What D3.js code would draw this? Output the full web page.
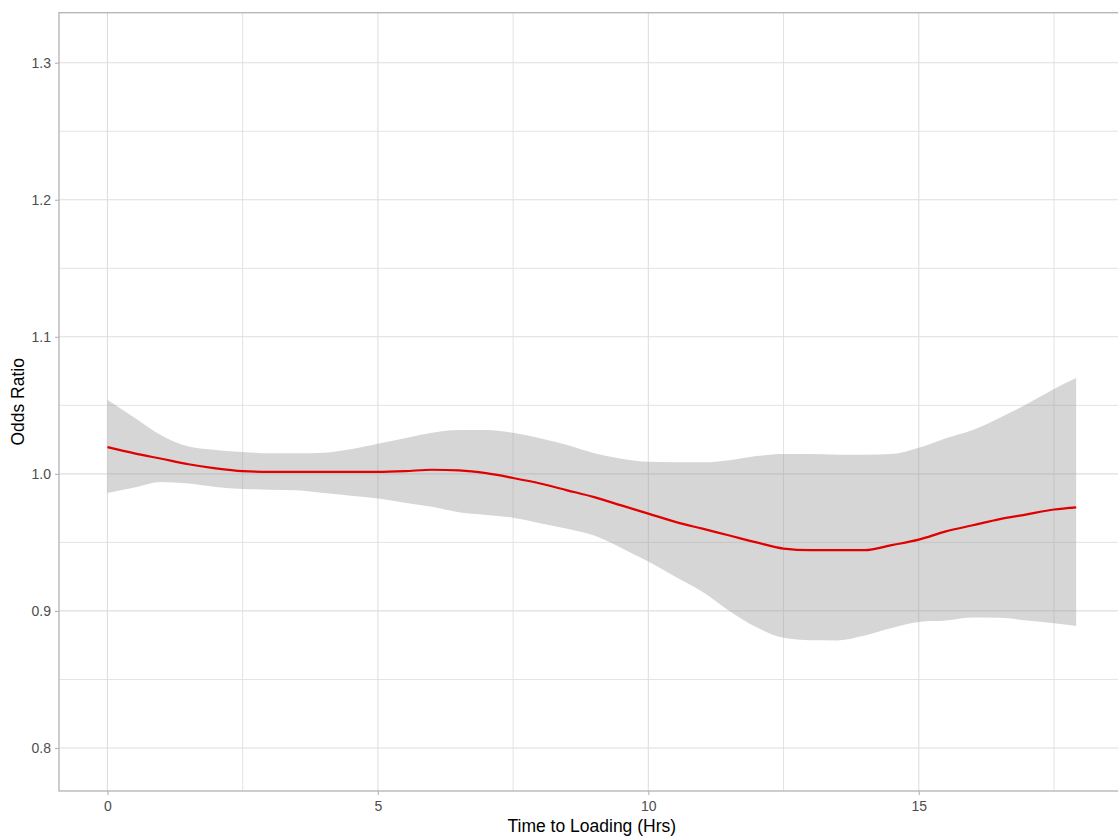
<!DOCTYPE html>
<html>
<head>
<meta charset="utf-8">
<script src="https://cdn.jsdelivr.net/npm/d3@7"></script>
<style>
  html, body { margin: 0; padding: 0; background: #fff; }
  svg { display: block; font-family: "Liberation Sans", Arial, sans-serif; }
</style>
</head>
<body>
<svg id="chart" width="1118" height="836"></svg>
<script>
// ---- Data ----
const timeHrs = [0, 0.5, 1, 1.5, 2, 2.5, 3, 3.5, 4, 4.5, 5, 5.5, 6, 6.5, 7, 7.5, 8, 8.5, 9, 9.5,
  10, 10.5, 11, 11.5, 12, 12.5, 13, 13.5, 14, 14.5, 15, 15.5, 16, 16.5, 17, 17.5, 17.91];
const oddsRatio = [1.0195, 1.015, 1.011, 1.007, 1.004, 1.002, 1.0015, 1.0015, 1.0015, 1.0015,
  1.0015, 1.002, 1.003, 1.0025, 1.0005, 0.997, 0.993, 0.988, 0.983, 0.977,
  0.971, 0.965, 0.960, 0.955, 0.950, 0.9455, 0.9443, 0.9443, 0.9443, 0.948,
  0.952, 0.958, 0.9625, 0.967, 0.9705, 0.974, 0.9756];
const lowerCI = [0.986, 0.990, 0.994, 0.993, 0.9905, 0.989, 0.9885, 0.988, 0.986, 0.984,
  0.982, 0.979, 0.976, 0.972, 0.970, 0.968, 0.964, 0.960, 0.955, 0.946,
  0.936, 0.925, 0.914, 0.900, 0.888, 0.8804, 0.8786, 0.8785, 0.882, 0.8875,
  0.892, 0.893, 0.8952, 0.895, 0.893, 0.891, 0.889];
const upperCI = [1.054, 1.041, 1.028, 1.020, 1.0175, 1.016, 1.015, 1.015, 1.0155, 1.018,
  1.022, 1.026, 1.030, 1.032, 1.032, 1.030, 1.026, 1.021, 1.015, 1.011,
  1.0088, 1.0085, 1.0085, 1.010, 1.013, 1.0145, 1.0145, 1.014, 1.014, 1.0145,
  1.019, 1.026, 1.032, 1.041, 1.051, 1.062, 1.070];
const xTicks = [0, 5, 10, 15];
const xMinor = [2.5, 7.5, 12.5, 17.5];
const yTicks = [0.8, 0.9, 1.0, 1.1, 1.2, 1.3];
const yMinor = [0.85, 0.95, 1.05, 1.15, 1.25];
const xTitle = "Time to Loading (Hrs)";
const yTitle = "Odds Ratio";

const rows = timeHrs.map((t, i) => ({ t, or: oddsRatio[i], lo: lowerCI[i], hi: upperCI[i] }));

// ---- Layout ----
const svg = d3.select("#chart");
const panel = { left: 59, top: 12.7, right: 1124.6, bottom: 791 };

const xMaxData = d3.max(timeHrs), xPad = 0.05 * xMaxData;
const x = d3.scaleLinear().domain([-xPad, xMaxData + xPad]).range([panel.left, panel.right]);
const y = d3.scaleLinear().domain([0.7686, 1.3365]).range([panel.bottom, panel.top]);

svg.append("defs").append("clipPath").attr("id", "clip")
  .append("rect").attr("x", panel.left).attr("y", panel.top)
  .attr("width", panel.right - panel.left).attr("height", panel.bottom - panel.top);

const grid = svg.append("g").attr("clip-path", "url(#clip)");
// minor grid
grid.selectAll(".xminor").data(xMinor).join("line")
  .attr("x1", d => x(d)).attr("x2", d => x(d)).attr("y1", panel.top).attr("y2", panel.bottom)
  .attr("stroke", "#E3E3E3").attr("stroke-width", 1);
grid.selectAll(".yminor").data(yMinor).join("line")
  .attr("y1", d => y(d)).attr("y2", d => y(d)).attr("x1", panel.left).attr("x2", panel.right)
  .attr("stroke", "#E3E3E3").attr("stroke-width", 1);
// major grid
grid.selectAll(".xmajor").data(xTicks).join("line")
  .attr("x1", d => x(d)).attr("x2", d => x(d)).attr("y1", panel.top).attr("y2", panel.bottom)
  .attr("stroke", "#DEDEDE").attr("stroke-width", 1.1);
grid.selectAll(".ymajor").data(yTicks).join("line")
  .attr("y1", d => y(d)).attr("y2", d => y(d)).attr("x1", panel.left).attr("x2", panel.right)
  .attr("stroke", "#DEDEDE").attr("stroke-width", 1.1);

const plot = svg.append("g").attr("clip-path", "url(#clip)");
// ribbon
const area = d3.area().x(d => x(d.t)).y0(d => y(d.lo)).y1(d => y(d.hi)).curve(d3.curveMonotoneX);
plot.append("path").datum(rows).attr("d", area)
  .attr("fill", "#999999").attr("fill-opacity", 0.4);
// line
const line = d3.line().x(d => x(d.t)).y(d => y(d.or)).curve(d3.curveMonotoneX);
plot.append("path").datum(rows).attr("d", line)
  .attr("fill", "none").attr("stroke", "#E00000").attr("stroke-width", 2.2);

// panel border
svg.append("rect").attr("x", panel.left).attr("y", panel.top)
  .attr("width", panel.right - panel.left).attr("height", panel.bottom - panel.top)
  .attr("fill", "none").attr("stroke", "#B3B3B3").attr("stroke-width", 1.3);

// axes
const xAxis = d3.axisBottom(x).tickValues(xTicks).tickFormat(d3.format("d")).tickSize(4).tickPadding(6);
const gx = svg.append("g").attr("transform", `translate(0,${panel.bottom})`).call(xAxis);
const yAxis = d3.axisLeft(y).tickValues(yTicks).tickFormat(d3.format(".1f")).tickSize(4).tickPadding(4);
const gy = svg.append("g").attr("transform", `translate(${panel.left},0)`).call(yAxis);
[gx, gy].forEach(g => {
  g.select(".domain").remove();
  g.selectAll(".tick line").attr("stroke", "#B3B3B3").attr("stroke-width", 1.1);
  g.selectAll(".tick text").attr("fill", "#4D4D4D").attr("font-size", 14)
    .attr("font-family", "'Liberation Sans', Arial, sans-serif");
});

// titles
svg.append("text").attr("x", (panel.left + panel.right) / 2).attr("y", 832)
  .attr("text-anchor", "middle").attr("font-size", 17.5).attr("fill", "#000").text(xTitle);
svg.append("text").attr("transform", `translate(24,${(panel.top + panel.bottom) / 2}) rotate(-90)`)
  .attr("text-anchor", "middle").attr("font-size", 17.5).attr("fill", "#000").text(yTitle);
</script>
</body>
</html>
